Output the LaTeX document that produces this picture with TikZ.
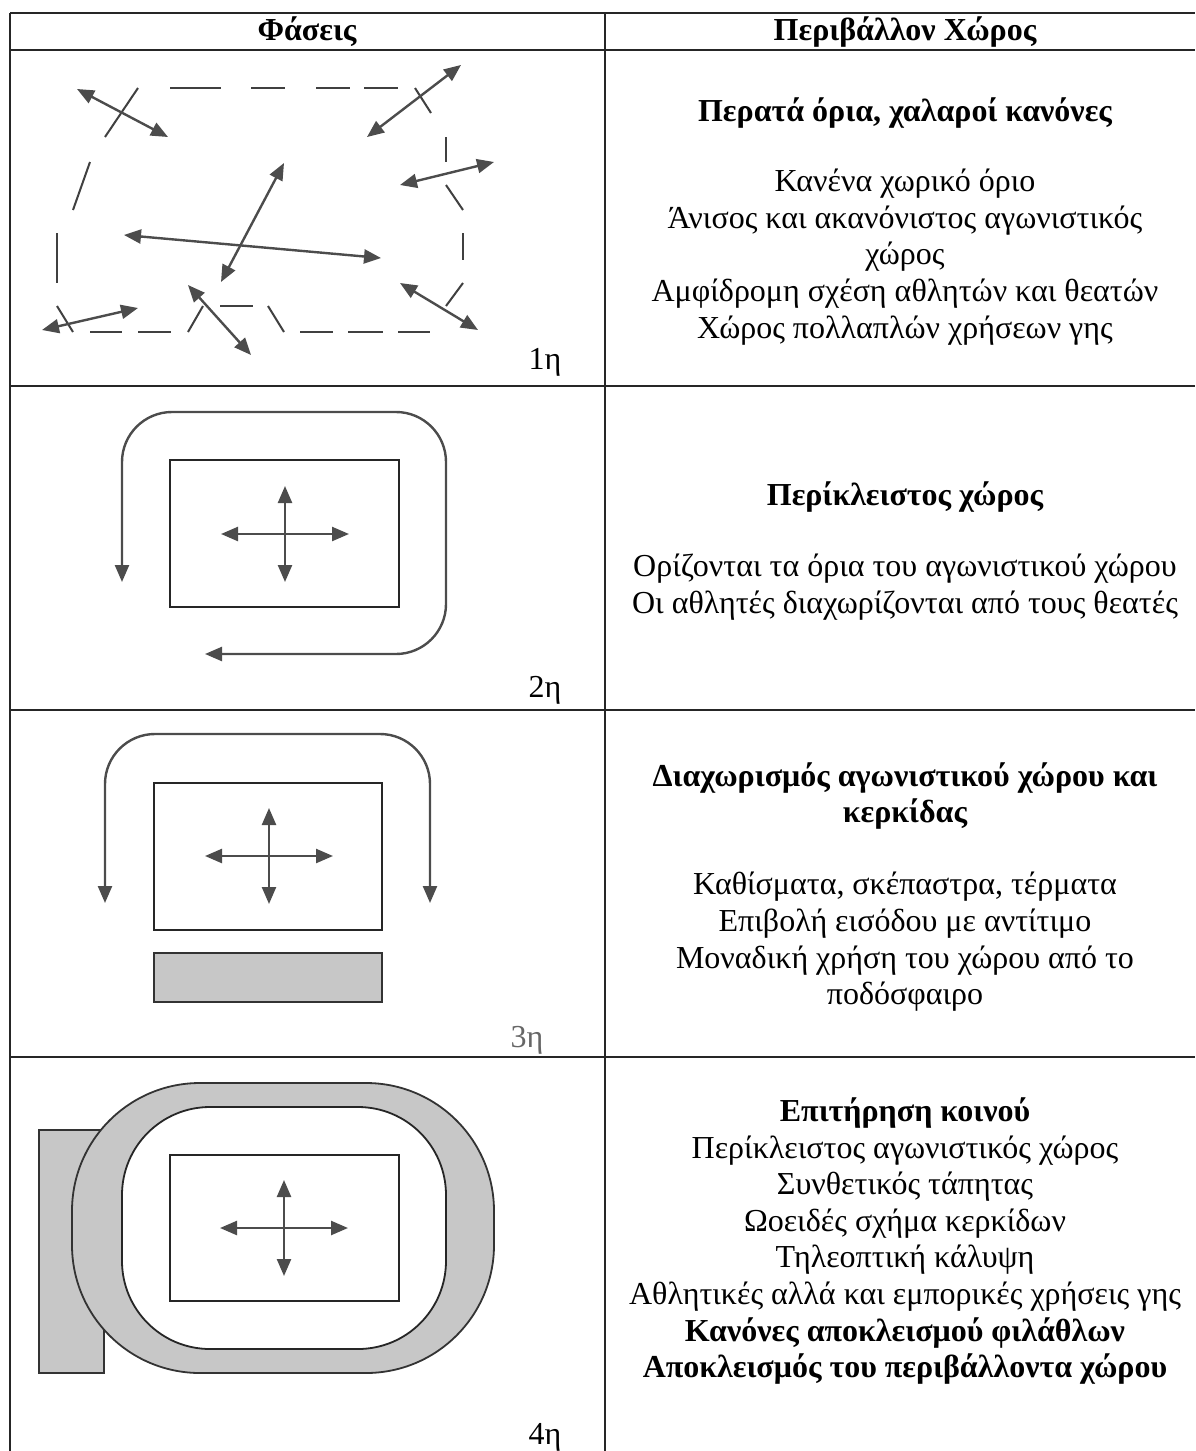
\documentclass[tikz,border=0pt]{standalone}
\usepackage{fontspec}
\setmainfont{Liberation Serif}
\usetikzlibrary{arrows.meta}

\tikzset{
  rule/.style={line width=1pt, black!85},
  arr/.style={{Triangle[length=8.5pt,width=7pt]}-{Triangle[length=8.5pt,width=7pt]}, line width=1.2pt, black!70},
  brk/.style={line width=1pt, black!75},
  pitch/.style={draw, line width=0.9pt, black!85},
  stand/.style={draw=black!80, line width=0.9pt, fill=black!22},
  desc/.style={align=center, font=\fontsize{16}{18.3}\selectfont},
  head/.style={font=\fontsize{16}{18}\selectfont\bfseries},
  tag/.style={font=\fontsize{16}{18}\selectfont}
}
\newcommand{\fieldcross}[1]{%
  \draw[arr] #1 ++(-64,0) -- ++(128,0);
  \draw[arr] #1 ++(0,-48) -- ++(0,96);}

\begin{document}
\begin{tikzpicture}[x=0.5pt,y=-0.5pt]
    \useasboundingbox (0,0) rectangle (1195,1451);
    % table
    \draw[rule] (10,13) -- (1195,13);
    \draw[rule] (10,50) -- (1195,50);
    \foreach \y in {386,710,1057} \draw[rule] (10,\y) -- (1195,\y);
    \draw[rule] (10,13) -- (10,1451);
    \draw[rule] (605,13) -- (605,1451);
    \node[head] (hphase) at (307,32) {Φάσεις};
    \node[head] (hspace) at (905,32) {Περιβάλλον Χώρος};
    % 1st phase: open ground
    \foreach \xa/\ya/\xb/\yb in {170/88/221/88, 251/88/285/88, 316/88/350/88, 364/88/398/88,
        138/88/105/137, 415/88/431/113, 446/137/446/162, 446/185/463/210,
        463/233/463/260, 463/283/446/306, 398/332/430/332, 348/332/383/332,
        300/332/333/332, 268/306/284/332, 220/306/253/306, 203/306/188/332,
        138/332/171/332, 90/332/122/332, 57/306/73/332, 57/233/57/283, 90/162/73/210}
        \draw[brk] (\xa,\ya) -- (\xb,\yb);
    \foreach \xa/\ya/\xb/\yb in {77/89/168/137, 461/65/367/137, 494/162/400/185,
        284/163/221/282, 124/235/381/258, 400/283/478/330, 188/285/251/355, 138/308/42/330}
        \draw[arr] (\xa,\ya) -- (\xb,\yb);
    \node[tag] (p1) at (545,362) {1η};
    \node[desc] (t1) at (905,113) {\bfseries Περατά όρια, χαλαροί κανόνες};
    \node[desc] (d1) at (905,257) {Κανένα χωρικό όριο\\ Άνισος και ακανόνιστος αγωνιστικός\\ χώρος\\
        Αμφίδρομη σχέση αθλητών και θεατών\\ Χώρος πολλαπλών χρήσεων γης};
    % 2nd phase: enclosed ground
    \draw[pitch] (170,460) rectangle (399,607);
    \fieldcross{(285,534)}
    \draw[arr, rounded corners=25pt] (122,582) -- (122,412) -- (446,412) -- (446,654) -- (205,654);
    \node[tag] (p2) at (545,690) {2η};
    \node[desc] (t2) at (905,497) {\bfseries Περίκλειστος χώρος};
    \node[desc] (d2) at (905,587) {Ορίζονται τα όρια του αγωνιστικού χώρου\\ Οι αθλητές διαχωρίζονται από τους θεατές};
    % 3rd phase: pitch and stand
    \draw[pitch] (154,783) rectangle (382,930);
    \fill[stand] (154,953) rectangle (382,1002);
    \fieldcross{(269,856)}
    \draw[arr, rounded corners=25pt] (105,903) -- (105,734) -- (430,734) -- (430,903);
    \node[tag, black!60] (p3) at (527,1040) {3η};
    \node[desc] (t3) at (905,796) {\bfseries Διαχωρισμός αγωνιστικού χώρου και\\ \bfseries κερκίδας};
    \node[desc] (d3) at (905,942) {Καθίσματα, σκέπαστρα, τέρματα\\ Επιβολή εισόδου με αντίτιμο\\
        Μοναδική χρήση του χώρου από το\\ ποδόσφαιρο};
    % 4th phase: stadium
    \fill[stand] (39,1130) rectangle (104,1373);
    \draw[stand, rounded corners=64pt] (72,1083) rectangle (494,1373);
    \draw[pitch, fill=white, rounded corners=44pt] (122,1107) rectangle (446,1349);
    \draw[pitch] (170,1155) rectangle (399,1301);
    \fieldcross{(284,1228)}
    \node[tag] (p4) at (545,1437) {4η};
    \node[desc] (d4) at (905,1241) {\bfseries Επιτήρηση κοινού\\ Περίκλειστος αγωνιστικός χώρος\\
        Συνθετικός τάπητας\\ Ωοειδές σχήμα κερκίδων\\ Τηλεοπτική κάλυψη\\
        Αθλητικές αλλά και εμπορικές χρήσεις γης\\ \bfseries Κανόνες αποκλεισμού φιλάθλων\\
        \bfseries Αποκλεισμός του περιβάλλοντα χώρου};
\end{tikzpicture}
\end{document}
